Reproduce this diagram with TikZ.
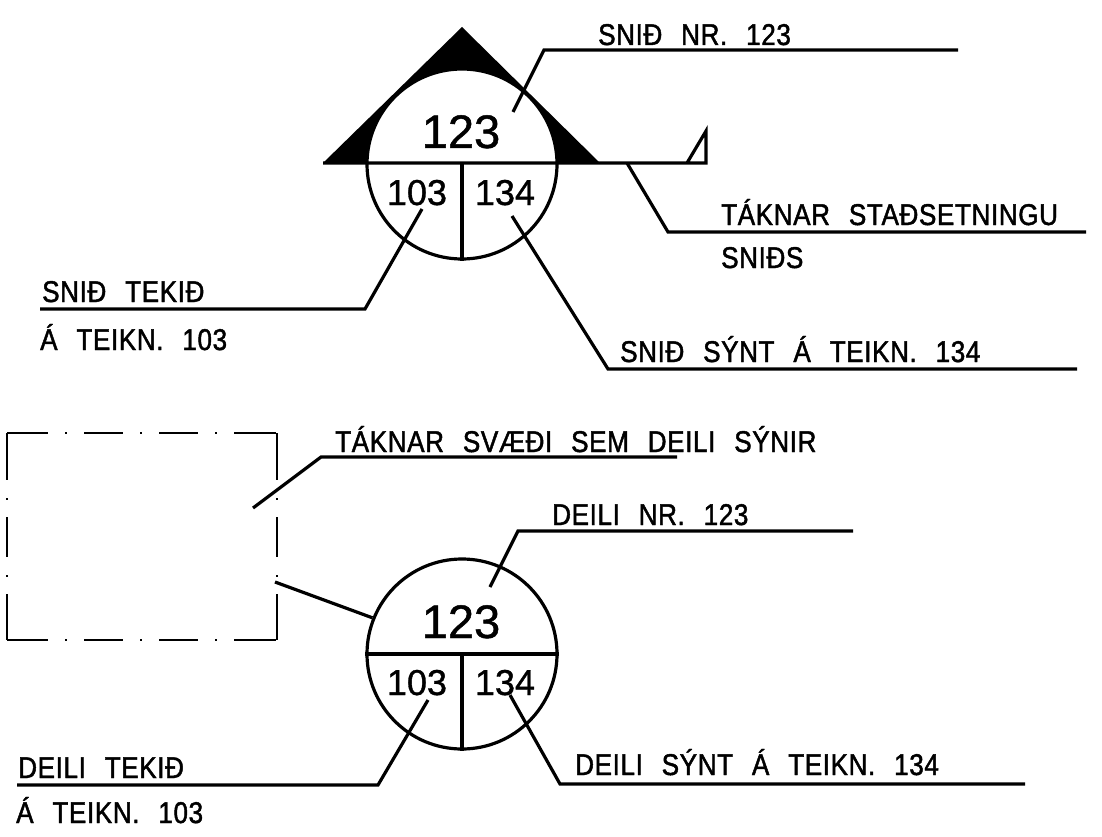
\documentclass[tikz,border=0pt]{standalone}
\usepackage{fontspec}
\setmainfont{Liberation Sans}
\newfontfamily\cadfont[FakeStretch=0.87,LetterSpace=2,WordSpace=2.4,FakeBold=1.5]{Liberation Sans}
\newfontfamily\cadnum[FakeBold=1]{Liberation Sans}
\usepackage{tikz}
\usetikzlibrary{calc}

\tikzset{
  lbl/.style={anchor=base west, inner sep=0pt, font=\fontsize{30}{30}\cadfont},
  numsmall/.style={inner sep=0pt, anchor=base, font=\fontsize{36}{36}\cadnum},
  numbig/.style={inner sep=0pt, anchor=base, font=\fontsize{47}{47}\cadnum},
  leader/.style={line width=3.2pt, line join=miter},
  ringnode/.style={circle, draw, fill=white, line width=3.2pt, minimum size=190pt, inner sep=0pt},
  dashh/.style={line width=2.4pt, dash pattern=on 41pt off 17pt on 2pt off 17pt on 39pt off 17pt on 2pt off 17pt on 39pt off 17pt on 2pt off 17pt on 42pt off 10pt},
  dashv/.style={line width=2.4pt, dash pattern=on 47pt off 18pt on 2pt off 17pt on 40pt off 18pt on 2pt off 17pt on 47pt off 10pt},
}

\begin{document}
\begin{tikzpicture}[x=1pt,y=-1pt]
  \useasboundingbox (0,0) rectangle (1102,837);
  % upper symbol
  \fill (323,163) -- (462,27) -- (600,163) -- cycle;
  \node (upcirc) at (462,164) [ringnode] {};
  \coordinate (upflagbase) at (706,163);
  \coordinate (upflagtop) at (706,131);
  \coordinate (upflagfoot) at (687,163);
  \coordinate (upleft) at (323,163);
  \coordinate (uplow) at (462,163);
  \draw [leader] (upleft) -- (upflagbase) -- (upflagtop) -- (upflagfoot);
  \draw [leader] (uplow) -- (upcirc.south);
  \node (upnum) at (461,148) [numbig] {123};
  \node (upleftnum) at (417,205) [numsmall] {103};
  \node (uprightnum) at (505,205) [numsmall] {134};

  % upper leaders
  \coordinate (snidnrend) at (513,112);
  \coordinate (snidnrknee) at (544,50);
  \coordinate (snidnrtip) at (958,50);
  \draw [leader] (snidnrend) -- (snidnrknee) -- (snidnrtip);
  \node (snidnr) at (598,45) [lbl] {SNIÐ NR. 123};
  \coordinate (takend) at (627,163);
  \coordinate (takknee) at (668,232);
  \coordinate (taktip) at (1086,232);
  \draw [leader] (takend) -- (takknee) -- (taktip);
  \node (stad) at (721,225) [lbl] {TÁKNAR STAÐSETNINGU};
  \node (snids) at (721,268) [lbl] {SNIÐS};
  \coordinate (tekend) at (422,209);
  \coordinate (tekknee) at (365,309);
  \coordinate (tektip) at (40,309);
  \draw [leader] (tekend) -- (tekknee) -- (tektip);
  \node (snidtek) at (42,302) [lbl] {SNIÐ TEKIÐ};
  \node (ateikn) at (40,350) [lbl] {Á TEIKN. 103};
  \coordinate (syntend) at (512,216);
  \coordinate (syntknee) at (608,369);
  \coordinate (synttip) at (1077,369);
  \draw [leader] (syntend) -- (syntknee) -- (synttip);
  \node (snidsynt) at (620,362) [lbl] {SNIÐ SÝNT Á TEIKN. 134};

  % area frame
  \coordinate (frnw) at (7,433);
  \coordinate (frne) at (277,433);
  \coordinate (frsw) at (7,640);
  \coordinate (frse) at (277,640);
  \draw [dashh] (frnw) -- (frne);
  \draw [dashh] (frsw) -- (frse);
  \draw [dashv] (frnw) -- (frsw);
  \draw [dashv] (frne) -- (frse);

  % lower symbol
  \node (lowcirc) at (462,654) [ringnode] {};
  \draw [leader] (lowcirc.west) -- (lowcirc.east);
  \draw [leader] (lowcirc.center) -- (lowcirc.south);
  \node (lownum) at (461,638) [numbig] {123};
  \node (lowleftnum) at (417,695) [numsmall] {103};
  \node (lowrightnum) at (505,695) [numsmall] {134};

  % lower leaders
  \coordinate (svend) at (253,508);
  \coordinate (svknee) at (321,457);
  \coordinate (svtip) at (677,457);
  \draw [leader] (svend) -- (svknee) -- (svtip);
  \node (svaedi) at (335,452) [lbl] {TÁKNAR SVÆÐI SEM DEILI SÝNIR};
  \coordinate (frtip) at (275,582);
  \draw [leader] (frtip) -- (lowcirc.158);
  \coordinate (dnrend) at (490,587);
  \coordinate (dnrknee) at (518,531);
  \coordinate (dnrtip) at (853,531);
  \draw [leader] (dnrend) -- (dnrknee) -- (dnrtip);
  \node (deilinr) at (552,525) [lbl] {DEILI NR. 123};
  \coordinate (dtekend) at (428,700);
  \coordinate (dtekknee) at (378,785);
  \coordinate (dtektip) at (17,785);
  \draw [leader] (dtekend) -- (dtekknee) -- (dtektip);
  \node (deilitek) at (18,778) [lbl] {DEILI TEKIÐ};
  \node (dateikn) at (16,823) [lbl] {Á TEIKN. 103};
  \coordinate (dsyntend) at (510,695);
  \coordinate (dsyntknee) at (560,784);
  \coordinate (dsynttip) at (1025,784);
  \draw [leader] (dsyntend) -- (dsyntknee) -- (dsynttip);
  \node (deilisynt) at (575,775) [lbl] {DEILI SÝNT Á TEIKN. 134};
\end{tikzpicture}
\end{document}
